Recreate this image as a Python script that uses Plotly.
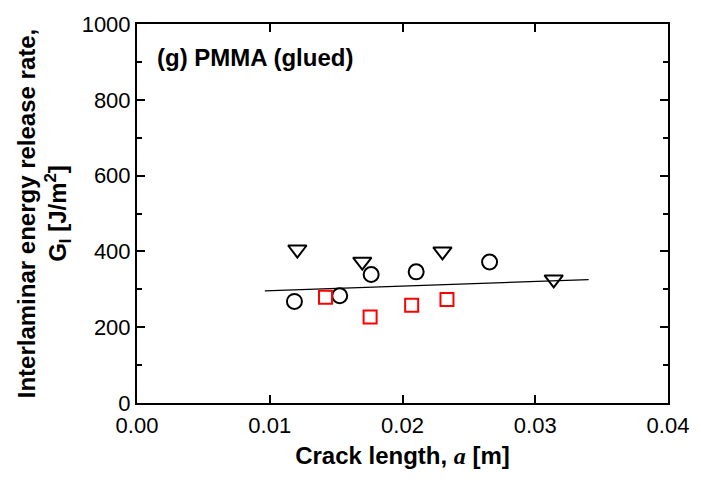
import plotly.graph_objects as go

# Data
circle_x = [0.01186, 0.01527, 0.01764, 0.02103, 0.02656]
circle_y = [268, 283, 339, 346, 372]

tri_x = [0.01208, 0.01697, 0.02301, 0.03139]
tri_y = [405, 373, 400, 326]

square_x = [0.0142, 0.01756, 0.02069, 0.02335]
square_y = [279, 227, 258, 273]

fit_x = [0.00963, 0.03402]
fit_y = [296, 325.5]

x_ticks = [0.00, 0.01, 0.02, 0.03, 0.04]
x_ticklabels = ["0.00", "0.01", "0.02", "0.03", "0.04"]
y_ticks = [0, 200, 400, 600, 800, 1000]

fig = go.Figure()
fig.add_trace(go.Scatter(x=fit_x, y=fit_y, mode="lines",
                         line=dict(color="black", width=1.3), showlegend=False))
fig.add_trace(go.Scatter(x=circle_x, y=circle_y, mode="markers",
                         marker=dict(symbol="circle-open", size=15, color="black",
                                     line=dict(width=2, color="black")), showlegend=False))
fig.add_trace(go.Scatter(x=tri_x, y=tri_y, mode="markers",
                         marker=dict(symbol="triangle-down-open", size=16, color="black",
                                     line=dict(width=2, color="black")), showlegend=False))
fig.add_trace(go.Scatter(x=square_x, y=square_y, mode="markers",
                         marker=dict(symbol="square-open", size=13, color="red",
                                     line=dict(width=2, color="red")), showlegend=False))

fig.add_annotation(text="<b>(g) PMMA (glued)</b>", xref="paper", yref="paper",
                   x=0.033, y=0.912, xanchor="left", yanchor="middle", showarrow=False,
                   font=dict(family="Liberation Sans, Arial", size=24, color="black"))

axis_common = dict(showline=True, linecolor="black", linewidth=2, mirror="ticks",
                   ticks="inside", ticklen=8, tickwidth=2, tickcolor="black",
                   showgrid=False, zeroline=False,
                   tickfont=dict(family="Liberation Sans, Arial", size=22, color="black"))

fig.update_xaxes(range=[0, 0.04], tickvals=x_ticks, ticktext=x_ticklabels,
                 ticklabelstandoff=2,
                 title=dict(text="<b>Crack length, <span style='font-family:Liberation Serif'><i>a</i></span> [m]</b>",
                            font=dict(family="Liberation Sans, Arial", size=24, color="black"),
                            standoff=10),
                 **axis_common)
fig.update_yaxes(range=[0, 1000], tickvals=y_ticks,
                 minor=dict(tickvals=[100, 300, 500, 700, 900], ticklen=5, tickwidth=2,
                            tickcolor="black", ticks="inside"),
                 title=dict(text="<b>Interlaminar energy release rate,<br>G<sub>I</sub> [J/m<sup>2</sup>]</b>",
                            font=dict(family="Liberation Sans, Arial", size=24, color="black"),
                            standoff=8),
                 **axis_common)

fig.update_layout(width=701, height=493, margin=dict(l=137, r=23, t=16, b=90),
                  plot_bgcolor="white", paper_bgcolor="white")

fig.write_html("out.html")
